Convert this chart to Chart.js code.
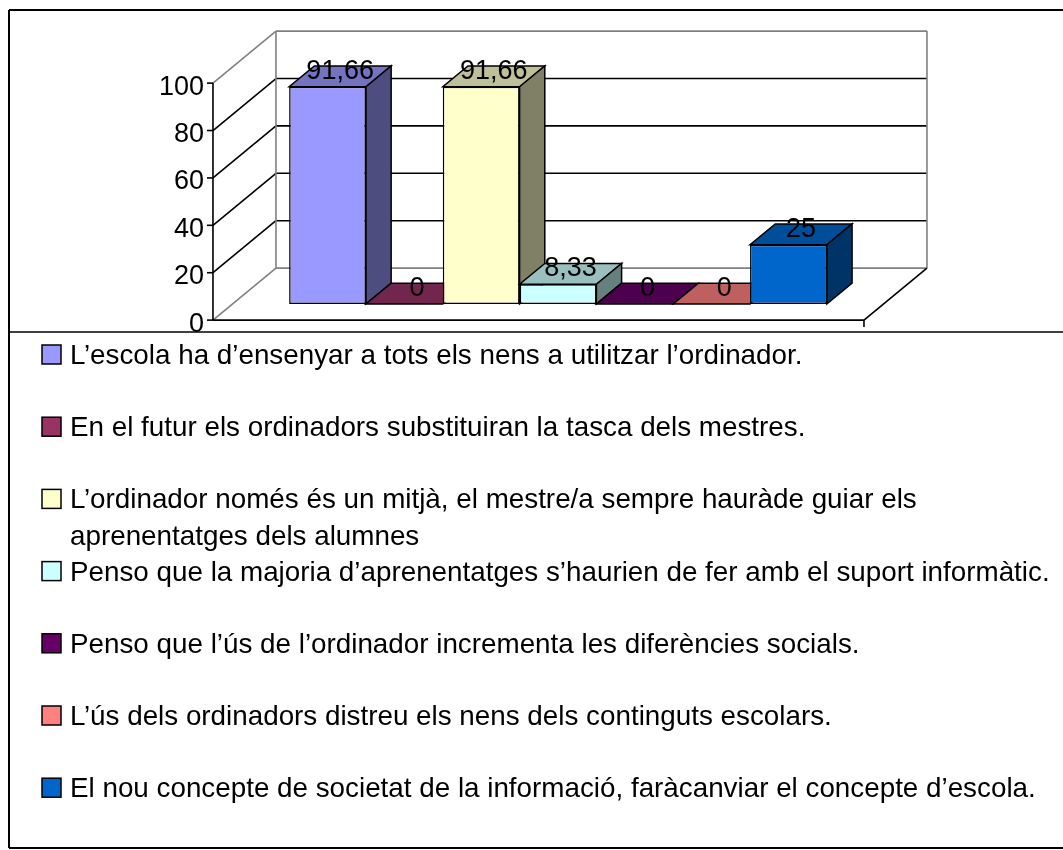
<!DOCTYPE html>
<html>
<head>
<meta charset="utf-8">
<script src="https://cdn.jsdelivr.net/npm/chart.js@4.4.1/dist/chart.umd.min.js"></script>
<style>
  html, body { margin: 0; padding: 0; background: #fff; }
  #wrap { position: relative; width: 1063px; height: 850px; }
</style>
</head>
<body>
<div id="wrap"><canvas id="barChart"></canvas></div>
<script>
// ---- data ----
var categories = [''];
var seriesLabels = [
  'L’escola ha d’ensenyar a tots els nens a utilitzar l’ordinador.',
  'En el futur els ordinadors substituiran la tasca dels mestres.',
  'L’ordinador només és un mitjà, el mestre/a sempre hauràde guiar els aprenentatges dels alumnes',
  'Penso que la majoria d’aprenentatges s’haurien de fer amb el suport informàtic.',
  'Penso que l’ús de l’ordinador incrementa les diferències socials.',
  'L’ús dels ordinadors distreu els nens dels continguts escolars.',
  'El nou concepte de societat de la informació, faràcanviar el concepte d’escola.'
];
var seriesValues = [91.66, 0, 91.66, 8.33, 0, 0, 25];
var seriesColors = ['#9999FF', '#993366', '#FFFFCC', '#CCFFFF', '#660066', '#FF8080', '#0066CC'];
var yTicks = [0, 20, 40, 60, 80, 100];

// depth of the 3d floor, in pixels, and where the bars sit in it
var DEPTH_X = 63, DEPTH_Y = 52;
var BAR_FRONT = 0.31, BAR_BACK = 0.71;
var FONT = '"Liberation Sans", Arial, sans-serif';

function shade(hex, f) {
  var n = parseInt(hex.slice(1), 16);
  var r = Math.round(((n >> 16) & 255) * f), g = Math.round(((n >> 8) & 255) * f), b = Math.round((n & 255) * f);
  return 'rgb(' + r + ',' + g + ',' + b + ')';
}

function line(ctx, x1, y1, x2, y2, color, w) {
  ctx.beginPath();
  ctx.moveTo(x1, y1);
  ctx.lineTo(x2, y2);
  ctx.strokeStyle = color;
  ctx.lineWidth = w || 1;
  ctx.stroke();
}

function poly(ctx, pts, fill) {
  ctx.beginPath();
  ctx.moveTo(pts[0][0], pts[0][1]);
  for (var i = 1; i < pts.length; i++) ctx.lineTo(pts[i][0], pts[i][1]);
  ctx.closePath();
  ctx.fillStyle = fill;
  ctx.fill();
  ctx.strokeStyle = '#000';
  ctx.lineWidth = 1.5;
  ctx.stroke();
}

var threeD = {
  id: 'threeD',
  beforeDatasetsDraw: function (chart) {
    var ctx = chart.ctx, y = chart.scales.y, area = chart.chartArea;
    var fx = area.left - BAR_FRONT * DEPTH_X, fdy = BAR_FRONT * DEPTH_Y;
    var rx = area.right - BAR_FRONT * DEPTH_X;
    var bdy = (1 - BAR_FRONT) * DEPTH_Y;
    var grey = '#808080';
    ctx.save();
    // back wall + side wall gridlines
    y.ticks.forEach(function (t) {
      var py = y.getPixelForValue(t.value);
      var edge = (t.value === y.min || t.value === y.max);
      var c = edge ? grey : '#000';
      line(ctx, fx, py + fdy, fx + DEPTH_X, py - bdy, c, 1.6);
      line(ctx, fx + DEPTH_X, py - bdy, rx + DEPTH_X, py - bdy, c, 1.6);
    });
    var top = y.getPixelForValue(y.max), bot = y.getPixelForValue(y.min);
    line(ctx, fx + DEPTH_X, top - bdy, fx + DEPTH_X, bot - bdy, grey, 1.6);
    line(ctx, rx + DEPTH_X, top - bdy, rx + DEPTH_X, bot - bdy, grey, 1.6);
    // floor front + right edge
    line(ctx, fx, bot + fdy, rx, bot + fdy, '#000', 1.6);
    line(ctx, rx, bot + fdy, rx + DEPTH_X, bot - bdy, '#000', 1.6);
    line(ctx, rx, bot + fdy, rx, bot + fdy + 7, '#000', 1.6);
    // value axis
    line(ctx, fx, top + fdy, fx, bot + fdy, '#000', 1.6);
    ctx.font = '27px ' + FONT;
    ctx.fillStyle = '#000';
    ctx.textAlign = 'right';
    ctx.textBaseline = 'middle';
    y.ticks.forEach(function (t) {
      var py = y.getPixelForValue(t.value) + fdy;
      line(ctx, fx - 6, py, fx, py, '#000', 1.6);
      ctx.fillText(String(t.value), fx - 9, py + 4);
    });
    ctx.restore();
  },
  // bars are drawn here, left to right, so every bar hides the side of the one before it
  beforeDatasetDraw: function () {
    return false;
  },
  afterDatasetsDraw: function (chart) {
    var ctx = chart.ctx;
    var dx = (BAR_BACK - BAR_FRONT) * DEPTH_X, dy = (BAR_BACK - BAR_FRONT) * DEPTH_Y;
    ctx.save();
    chart.data.datasets.forEach(function (ds, i) {
      var col = ds.backgroundColor;
      chart.getDatasetMeta(i).data.forEach(function (bar) {
        bar.draw(ctx, chart.chartArea);
        var p = bar.getProps(['x', 'y', 'base', 'width'], true);
        var l = p.x - p.width / 2, r = p.x + p.width / 2;
        poly(ctx, [[l, p.y], [r, p.y], [r + dx, p.y - dy], [l + dx, p.y - dy]], shade(col, 0.75));
        if (p.base - p.y > 0.5) {
          poly(ctx, [[r, p.y], [r, p.base], [r + dx, p.base - dy], [r + dx, p.y - dy]], shade(col, 0.5));
        }
      });
    });
    // value labels
    ctx.font = '27px ' + FONT;
    ctx.fillStyle = '#000';
    ctx.textAlign = 'center';
    ctx.textBaseline = 'middle';
    chart.data.datasets.forEach(function (ds, i) {
      chart.getDatasetMeta(i).data.forEach(function (bar, j) {
        var p = bar.getProps(['x', 'y'], true);
        ctx.fillText(String(ds.data[j]).replace('.', ','), p.x + dx / 2, p.y - dy / 2 - 5);
      });
    });
    ctx.restore();
  },
  afterDraw: function (chart) {
    var ctx = chart.ctx, W = chart.width;
    ctx.save();
    // chart frame and legend divider
    line(ctx, 9, 10, W, 10, '#000', 2);
    line(ctx, 9, 10, 9, 848, '#000', 2);
    line(ctx, 9, 848, W, 848, '#000', 2);
    line(ctx, 9, 332, W, 332, '#000', 1.5);
    // legend
    ctx.font = '27.8px ' + FONT;
    ctx.textAlign = 'left';
    ctx.textBaseline = 'alphabetic';
    var rowH = 36.1, y0 = 354.5, maxW = 985;
    chart.data.datasets.forEach(function (ds, i) {
      var cy = y0 + i * 2 * rowH;
      ctx.fillStyle = ds.backgroundColor;
      ctx.fillRect(42, cy - 9.5, 19, 19);
      ctx.strokeStyle = '#000';
      ctx.lineWidth = 1.5;
      ctx.strokeRect(42, cy - 9.5, 19, 19);
      var words = ds.label.split(' '), cur = '', lines = [];
      words.forEach(function (w) {
        var test = cur ? cur + ' ' + w : w;
        if (ctx.measureText(test).width > maxW && cur) { lines.push(cur); cur = w; } else { cur = test; }
      });
      lines.push(cur);
      ctx.fillStyle = '#000';
      lines.forEach(function (t, k) {
        ctx.fillText(t, 70, cy + 9.5 + k * rowH);
      });
    });
    ctx.restore();
  }
};

var datasets = seriesLabels.map(function (lbl, i) {
  return {
    label: lbl,
    data: [seriesValues[i]],
    backgroundColor: seriesColors[i],
    borderColor: '#000',
    borderWidth: 1.5,
    borderSkipped: false,
    categoryPercentage: 0.826,
    barPercentage: 1
  };
});

var barChart = new Chart(document.getElementById('barChart').getContext('2d'), {
  type: 'bar',
  data: { labels: categories, datasets: datasets },
  options: {
    responsive: true,
    maintainAspectRatio: false,
    animation: false,
    layout: { padding: { left: 232.5, right: 179.5, top: 67, bottom: 546 } },
    plugins: { legend: { display: false }, tooltip: { enabled: false } },
    scales: {
      x: { display: false },
      y: { display: false, min: 0, max: 100, ticks: { stepSize: 20 } }
    }
  },
  plugins: [threeD]
});
</script>
</body>
</html>
